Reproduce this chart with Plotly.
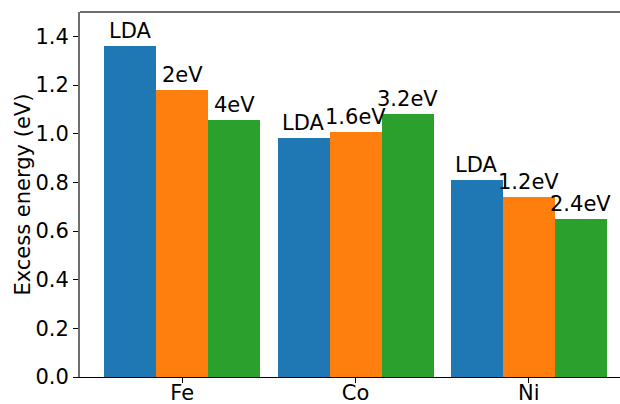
import plotly.graph_objects as go

# Excess energies (eV) for each metal, computed with LDA and two U values
metals = ["Fe", "Co", "Ni"]
series_names = ["LDA", "U1", "U2"]
lda_values = [1.362, 0.983, 0.810]
u1_values = [1.181, 1.008, 0.739]
u2_values = [1.057, 1.082, 0.650]
u1_labels = ["2eV", "1.6eV", "1.2eV"]
u2_labels = ["4eV", "3.2eV", "2.4eV"]
lda_labels = ["LDA", "LDA", "LDA"]

colors = ["#1f77b4", "#ff7f0e", "#2ca02c"]
bar_width = 0.3
offsets = [-bar_width, 0.0, bar_width]
font_family = "DejaVu Sans"
font_size = 21
plot_left = 80
fig_w, fig_h = 620, 404

series = [
    (lda_values, lda_labels),
    (u1_values, u1_labels),
    (u2_values, u2_labels),
]

fig = go.Figure()
annotations = []
for k, (vals, labels) in enumerate(series):
    xs = [i + offsets[k] for i in range(len(metals))]
    fig.add_trace(go.Bar(
        x=xs, y=vals, width=bar_width, name=series_names[k],
        marker=dict(color=colors[k], line=dict(width=0)),
        showlegend=False,
    ))
    for x, v, lab in zip(xs, vals, labels):
        annotations.append(dict(
            x=x, y=v, xref="x", yref="y", text=lab, showarrow=False,
            xanchor="center", yanchor="bottom", yshift=1,
            font=dict(family=font_family, size=font_size, color="black"),
        ))

# y-axis title placed as paper text so it sits at a fixed spot
annotations.append(dict(
    x=(22 - plot_left) / (fig_w - plot_left), y=0.5,
    xref="paper", yref="paper", text="Excess energy (eV)",
    showarrow=False, textangle=-90, xanchor="center", yanchor="middle",
    font=dict(family=font_family, size=font_size, color="black"),
))

# grey top spine; bottom and left come from the axis lines
shapes = [
    dict(type="line", xref="paper", yref="paper", x0=0, x1=1, y0=1, y1=1,
         line=dict(color="#6e6e6e", width=2)),
]

fig.update_layout(
    width=fig_w, height=fig_h,
    margin=dict(l=plot_left, r=0, t=12, b=27),
    plot_bgcolor="white", paper_bgcolor="white",
    bargap=0, barmode="overlay",
    annotations=annotations, shapes=shapes,
    font=dict(family=font_family, size=font_size, color="black"),
    xaxis=dict(
        range=[-0.59, 2.526], tickmode="array",
        tickvals=list(range(len(metals))), ticktext=metals,
        showline=True, linecolor="black", linewidth=1.2,
        ticks="outside", ticklen=5, tickwidth=1.2, tickcolor="black",
        showgrid=False, zeroline=False, automargin=False,
        ticklabelstandoff=-8,
        tickfont=dict(family=font_family, size=font_size, color="black"),
    ),
    yaxis=dict(
        range=[0, 1.5], tickmode="array",
        tickvals=[0.0, 0.2, 0.4, 0.6, 0.8, 1.0, 1.2, 1.4],
        ticktext=["0.0", "0.2", "0.4", "0.6", "0.8", "1.0", "1.2", "1.4"],
        showline=True, linecolor="#6e6e6e", linewidth=2,
        ticks="outside", ticklen=5, tickwidth=1.2, tickcolor="black",
        showgrid=False, zeroline=False, automargin=False,
        tickfont=dict(family=font_family, size=font_size, color="black"),
    ),
)

fig.write_html("out.html")
